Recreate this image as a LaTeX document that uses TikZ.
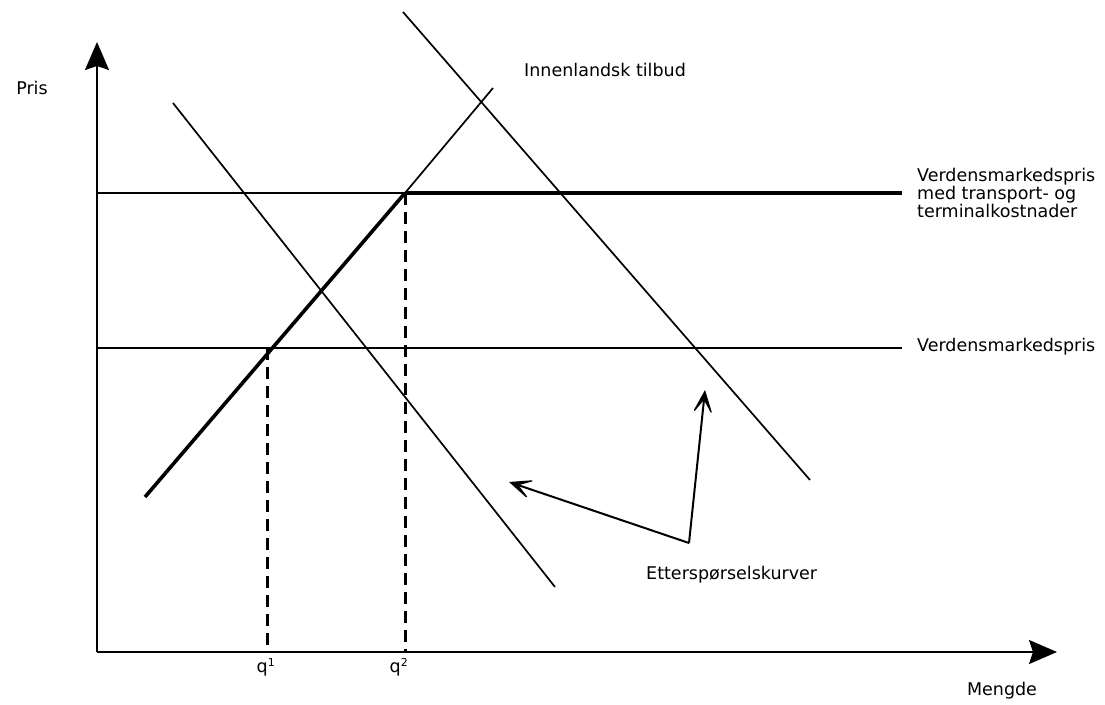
\documentclass[tikz,border=0pt]{standalone}
\usepackage{fontspec}
\setmainfont{DejaVu Sans}
\usetikzlibrary{arrows.meta}
\begin{document}
\begin{tikzpicture}[x=1pt,y=-1pt,
  thinline/.style={line width=1.7pt},
  thickline/.style={line width=3.6pt},
  axis/.style={line width=2pt,-{Stealth[length=28pt,width=24pt,inset=4pt]}},
  dash line/.style={line width=3pt,dash pattern=on 12pt off 7pt},
  pointer/.style={line width=2pt,-{Stealth[length=27pt,width=23pt,inset=17pt,line width=1.2pt]}},
  lbl/.style={font=\fontsize{17.5}{18}\selectfont,inner sep=0pt}]
\useasboundingbox (0,0) rectangle (1105,704);
% axes
\coordinate (O) at (97,652);
\coordinate (ytip) at (97,42);
\coordinate (xtip) at (1057,652);
\draw[axis] (O) -- (ytip);
\draw[axis] (O) -- (xtip);
% world prices
\coordinate (wpt0) at (97,193);
\coordinate (E2) at (405,193);
\coordinate (wpt1) at (902,193);
\coordinate (wp0) at (97,348);
\coordinate (E1) at (267,348);
\coordinate (wp1) at (902,348);
\draw[thinline] (wpt0) -- (E2);
\draw[thickline] (E2) -- (wpt1);
\draw[thinline] (wp0) -- (wp1);
% domestic supply
\coordinate (s0) at (145,497);
\coordinate (s1) at (493,88);
\draw[thickline] (s0) -- (E2);
\draw[thinline] (E2) -- (s1);
% demand curves
\coordinate (d1a) at (173,103);
\coordinate (d1b) at (555,587);
\coordinate (d2a) at (403,12);
\coordinate (d2b) at (810,480);
\draw[thinline] (d1a) -- (d1b);
\draw[thinline] (d2a) -- (d2b);
% dashed
\coordinate (q1b) at (267,652);
\coordinate (q2b) at (405,652);
\draw[dash line] (E1) -- (q1b);
\draw[dash line] (E2) -- (q2b);
% labels
\node[lbl] (pris) at (32,88) {Pris};
\node[lbl] (mengde) at (1002,691) {Mengde};
\node[lbl] (q1) at (266,667) {q\textsuperscript{\fontsize{11}{11}\selectfont 1}};
\node[lbl] (q2) at (399,667) {q\textsuperscript{\fontsize{11}{11}\selectfont 2}};
\node[lbl,anchor=west] (tilbud) at (524,70) {Innenlandsk tilbud};
\node[lbl,anchor=west] (wplbl) at (917,347) {Verdensmarkedspris};
\node[lbl,anchor=north west,align=left] (wptlbl) at (917,168) {Verdensmarkedspris\\med transport- og\\terminalkostnader};
\node[lbl,anchor=west] (ett) at (646,575) {Etterspørselskurver};
% pointers
\coordinate (v) at (689,543);
\coordinate (p1) at (509,482);
\coordinate (p2) at (705,390);
\draw[pointer] (v) -- (p1);
\draw[pointer] (v) -- (p2);
\end{tikzpicture}
\end{document}
